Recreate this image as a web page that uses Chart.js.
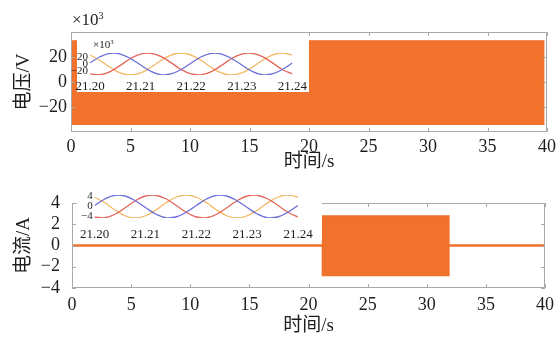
<!DOCTYPE html>
<html>
<head>
  <meta charset="utf-8">
  <title>电压与电流波形</title>
  <style>
    body { margin: 0; background: #fff; }
    #wrap { position: relative; width: 560px; height: 337px; overflow: hidden; }
    #wrap canvas, .cover, .exp { position: absolute; }
    .cover { background: #fff; }
    .exp { font-family: 'Liberation Serif', serif; color: #222; white-space: nowrap; line-height: 1; }
    .exp sup { font-size: 60%; vertical-align: top; }
  </style>
</head>
<body>
<div id="wrap">
  <canvas id="voltMain" width="560" height="173" style="left:0;top:0"></canvas>
  <div class="cover" style="left:77px;top:33px;width:232px;height:59px"></div>
  <canvas id="voltZoom" width="240" height="62" style="left:71px;top:32px"></canvas>
  <div class="exp" style="left:72px;top:11px;font-size:17px">×10<sup>3</sup></div>
  <div class="exp" style="left:93px;top:39px;font-size:11px">×10<sup>3</sup></div>

  <canvas id="currMain" width="560" height="167" style="left:0;top:170px"></canvas>
  <div class="cover" style="left:77px;top:185px;width:245px;height:56px"></div>
  <canvas id="currZoom" width="252" height="60" style="left:71px;top:185px"></canvas>
</div>

<script src="https://cdn.jsdelivr.net/npm/chart.js"></script>
<script>
  // voltage envelope (kV), full run
  const voltTime = [0, 39.8];
  const voltUpper = [33, 33];
  const voltLower = [-34, -34];

  // current envelope (A): flat, then the loaded interval
  const currTime = [0, 21.2, 21.2, 31.85, 31.85, 40];
  const currUpper = [0, 0, 2.75, 2.75, 0, 0];
  const currLower = [0, 0, -2.8, -2.8, 0, 0];

  // tick labels
  const xTicksMain = [0, 5, 10, 15, 20, 25, 30, 35, 40];
  const voltTicks = [-20, 0, 20];
  const currTicks = [-4, -2, 0, 2, 4];
  const zoomTicks = [21.20, 21.21, 21.22, 21.23, 21.24];
  const voltZoomTicks = [-20, 0, 20];
  const currZoomTicks = [-4, 0, 4];

  // 21.20 s .. 21.24 s detail, three phases
  const zoomTime = [21.200, 21.202, 21.204, 21.206, 21.208, 21.210, 21.212, 21.214, 21.216, 21.218,
                    21.220, 21.222, 21.224, 21.226, 21.228, 21.230, 21.232, 21.234, 21.236, 21.238, 21.240];
  const voltA = [3, 21, 31, 29, 16, -3, -21, -31, -29, -16, 3, 21, 31, 29, 16, -3, -21, -31, -29, -16, 3];
  const voltB = [-29, -31, -22, -4, 16, 29, 31, 22, 4, -16, -29, -31, -22, -4, 16, 29, 31, 22, 4, -16, -29];
  const voltC = [26, 10, -10, -26, -32, -26, -10, 10, 26, 32, 26, 10, -10, -26, -32, -26, -10, 10, 26, 32, 26];
  const currA = [0.4, 3.0, 4.5, 4.2, 2.3, -0.4, -3.0, -4.5, -4.2, -2.3, 0.4, 3.0, 4.5, 4.2, 2.3, -0.4, -3.0, -4.5, -4.2, -2.3, 0.4];
  const currB = [-4.2, -4.5, -3.1, -0.5, 2.3, 4.2, 4.5, 3.1, 0.5, -2.3, -4.2, -4.5, -3.1, -0.5, 2.3, 4.2, 4.5, 3.1, 0.5, -2.3, -4.2];
  const currC = [3.7, 1.5, -1.4, -3.7, -4.6, -3.7, -1.5, 1.4, 3.7, 4.6, 3.7, 1.5, -1.4, -3.7, -4.6, -3.7, -1.5, 1.4, 3.7, 4.6, 3.7];

  const ORANGE = '#f0722c';
  const PHASE = ['#6d6fd6', '#e2685c', '#f4b866'];
  const SERIF = "'Liberation Serif', 'Times New Roman', serif";
  const TITLE_FONT = { family: "'Liberation Serif', 'Noto Sans CJK SC', sans-serif", size: 19 };

  const pts = (xs, ys) => xs.map((x, i) => ({ x: x, y: ys[i] }));
  const fixTicks = list => scale => { scale.ticks = list.map(v => ({ value: v })); };
  const minus = v => v < 0 ? '\u2212' + Math.abs(v) : String(v);

  // matlab-ish box with inward tick marks
  const boxTicks = {
    id: 'boxTicks',
    afterDatasetsDraw(chart) {
      const { ctx, chartArea: a, scales: { x, y } } = chart;
      ctx.save();
      ctx.strokeStyle = '#a9a9a9';
      ctx.lineWidth = 1;
      ctx.beginPath();
      ctx.rect(a.left + 0.5, a.top + 0.5, a.width - 1, a.height - 1);
      x.ticks.forEach(t => {
        const px = Math.round(x.getPixelForValue(t.value)) + 0.5;
        ctx.moveTo(px, a.bottom); ctx.lineTo(px, a.bottom - 4);
        ctx.moveTo(px, a.top); ctx.lineTo(px, a.top + 4);
      });
      y.ticks.forEach(t => {
        const py = Math.round(y.getPixelForValue(t.value)) + 0.5;
        ctx.moveTo(a.left, py); ctx.lineTo(a.left + 4, py);
        ctx.moveTo(a.right, py); ctx.lineTo(a.right - 4, py);
      });
      ctx.stroke();
      ctx.restore();
    }
  };

  function band(xs, up, low, width) {
    return [
      { data: pts(xs, up), borderColor: ORANGE, backgroundColor: ORANGE, borderWidth: width, fill: '+1', pointRadius: 0, tension: 0 },
      { data: pts(xs, low), borderColor: ORANGE, borderWidth: width, fill: false, pointRadius: 0, tension: 0 }
    ];
  }

  function mainChart(id, datasets, o) {
    return new Chart(document.getElementById(id), {
      type: 'line',
      data: { datasets: datasets },
      plugins: [boxTicks],
      options: {
        responsive: false,
        animation: false,
        layout: { padding: { left: 13, right: o.right, top: o.top, bottom: 0 } },
        plugins: { legend: { display: false }, tooltip: { enabled: false } },
        scales: {
          x: {
            type: 'linear', min: 0, max: 40,
            afterBuildTicks: fixTicks(xTicksMain),
            afterFit: s => { s.height = o.xHeight; },
            grid: { display: false, drawTicks: false },
            border: { display: false },
            ticks: { color: '#1e1e1e', padding: o.xPad, maxRotation: 0, autoSkip: false, font: { family: SERIF, size: 18 } },
            title: { display: true, text: '时间/s', color: '#1e1e1e', font: TITLE_FONT, padding: 0 }
          },
          y: {
            type: 'linear', min: o.yMin, max: o.yMax,
            afterBuildTicks: fixTicks(o.yTicks),
            afterFit: s => { s.width = o.yWidth; },
            grid: { display: false, drawTicks: false },
            border: { display: false },
            ticks: { color: '#1e1e1e', padding: o.yPad, autoSkip: false, font: { family: SERIF, size: 18 }, callback: minus },
            title: { display: true, text: o.yTitle, color: '#1e1e1e', font: TITLE_FONT, padding: 0 }
          }
        }
      }
    });
  }

  function zoomChart(id, series, o) {
    return new Chart(document.getElementById(id), {
      type: 'line',
      data: {
        datasets: series.map((s, i) => ({
          data: pts(zoomTime, s), borderColor: PHASE[i], borderWidth: 1.3,
          pointRadius: 0, fill: false, tension: 0.4
        }))
      },
      options: {
        responsive: false,
        animation: false,
        layout: { padding: { left: 0, right: o.right, top: o.top, bottom: 0 } },
        plugins: { legend: { display: false }, tooltip: { enabled: false } },
        scales: {
          x: {
            type: 'linear', min: 21.2, max: 21.24,
            afterBuildTicks: fixTicks(zoomTicks),
            afterFit: s => { s.height = o.xHeight; },
            grid: { display: false, drawTicks: false },
            border: { display: false },
            ticks: { color: '#1e1e1e', padding: o.xPad, maxRotation: 0, autoSkip: false,
                     font: { family: SERIF, size: 13 }, callback: v => v.toFixed(2) }
          },
          y: {
            type: 'linear', min: o.yMin, max: o.yMax,
            afterBuildTicks: fixTicks(o.yTicks),
            afterFit: s => { s.width = o.yWidth; },
            grid: { display: false, drawTicks: false },
            border: { display: false },
            ticks: { color: '#1e1e1e', padding: 2, autoSkip: false, font: { family: SERIF, size: 11 }, callback: minus }
          }
        }
      }
    });
  }

  mainChart('voltMain', band(voltTime, voltUpper, voltLower, 1), {
    right: 12, top: 32, xHeight: 41, xPad: 4, yWidth: 58, yPad: 4,
    yMin: -40, yMax: 40, yTicks: voltTicks, yTitle: '电压/V'
  });

  mainChart('currMain', band(currTime, currUpper, currLower, 2), {
    right: 12, top: 33, xHeight: 49, xPad: 6, yWidth: 59, yPad: 12,
    yMin: -4, yMax: 4, yTicks: currTicks, yTitle: '电流/A'
  });

  zoomChart('voltZoom', [voltA, voltB, voltC], {
    right: 16, top: 21, xHeight: 19, xPad: 4, yWidth: 19,
    yMin: -32, yMax: 32, yTicks: voltZoomTicks
  });

  zoomChart('currZoom', [currA, currB, currC], {
    right: 25, top: 10, xHeight: 27, xPad: 9, yWidth: 21,
    yMin: -4.6, yMax: 4.6, yTicks: currZoomTicks
  });
</script>
</body>
</html>
